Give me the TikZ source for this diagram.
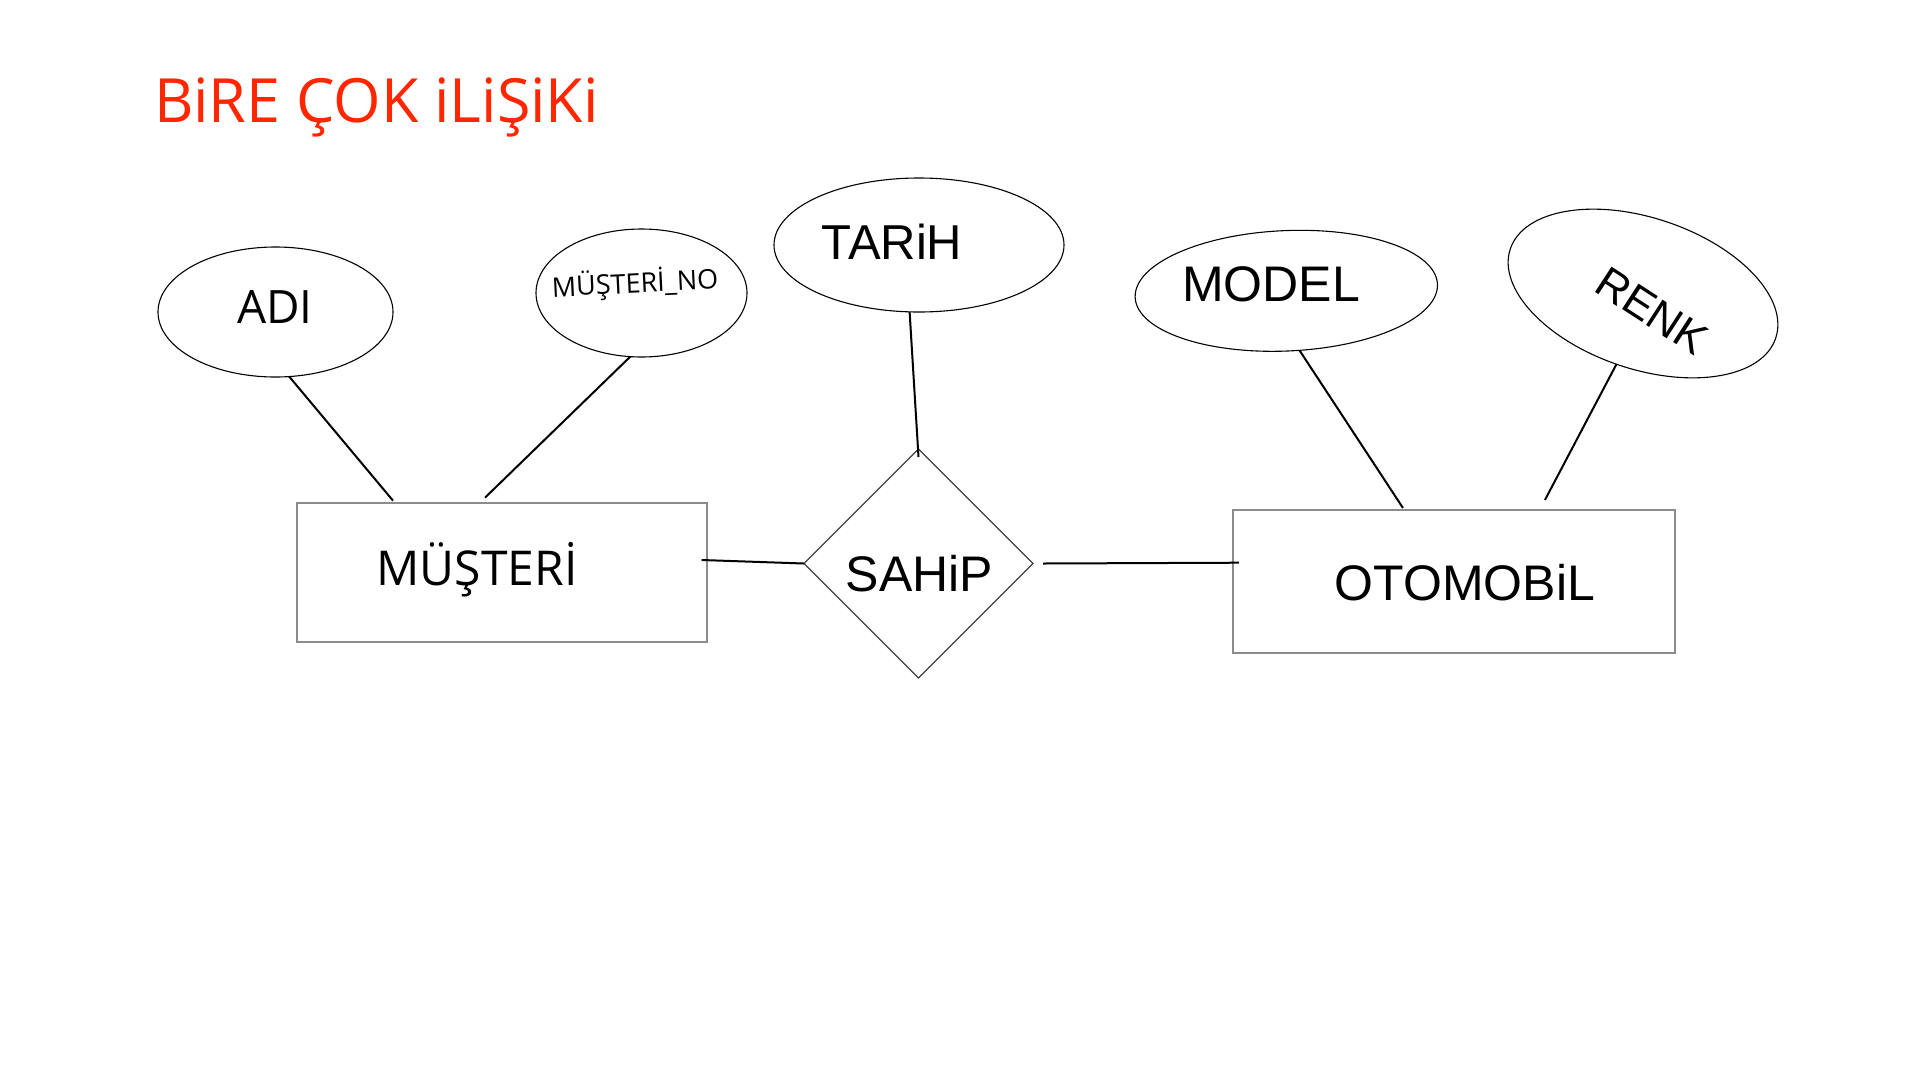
\documentclass[tikz,border=0pt]{standalone}
\usepackage{fontspec}
\usetikzlibrary{shapes.geometric}
\newfontfamily\osans{Open Sans}
\newfontfamily\lsans{Liberation Sans}
\definecolor{titlered}{RGB}{255,38,0}
\definecolor{boxgray}{RGB}{140,140,140}
\begin{document}
\begin{tikzpicture}[x=1pt,y=-1pt,
  attr/.style={ellipse, draw=black, line width=1.1pt, inner sep=0pt, outer sep=0pt},
  entity/.style={rectangle, draw=boxgray, line width=2pt, inner sep=0pt, outer sep=0pt},
  rel/.style={diamond, draw=black!75, line width=1.1pt, inner sep=0pt, outer sep=0pt, aspect=1},
  lbl/.style={inner sep=0pt, outer sep=0pt, anchor=base},
  conn/.style={draw=black, line width=2pt},
  osfont/.style={font={\osans\fontsize{#1pt}{#1pt}\selectfont}},
  lsfont/.style={font={\lsans\fontsize{#1pt}{#1pt}\selectfont}},
]
\fill[white] (0,0) rectangle (1920,1080);
\useasboundingbox (0,0) rectangle (1920,1080);

% title
\node[lbl, anchor=base west, text=titlered, osfont=61] (title) at (154,122) {BiRE ÇOK iLiŞiKi};

% attribute ellipses
\node[attr, minimum width=235pt, minimum height=130pt] (adi) at (275.5,312) {};
\node[attr, minimum width=211pt, minimum height=128pt] (muno) at (641.5,293) {};
\node[attr, minimum width=290pt, minimum height=134pt] (tarih) at (919,245) {};
\node[attr, minimum width=302.6pt, minimum height=120.4pt, rotate=2.5] (model) at (1286.3,290.8) {};
\node[attr, minimum width=280pt, minimum height=151pt, rotate=-18.6] (renk) at (1643,293.5) {};

% entities and relationship
\node[entity, minimum width=410.6pt, minimum height=139.3pt] (mus) at (502,572.3) {};
\node[entity, minimum width=442.5pt, minimum height=142.7pt] (oto) at (1454.2,581.3) {};
\node[rel, minimum width=229pt, minimum height=229pt] (sahip) at (918.5,563.5) {};

% labels
\node[lbl, osfont=46] (adiT) at (275,323) {ADI};
\node[lbl, osfont=27, rotate=2.8] (munoT) at (635.5,293) {MÜŞTERİ\_NO};
\node[lbl, lsfont=49] (tarihT) at (892,259) {TARiH};
\node[lbl, lsfont=50] (modelT) at (1271,301.7) {MODEL};
\node[inner sep=0pt, outer sep=0pt, anchor=center, lsfont=44, rotate=-33] (renkT) at (1652,310.7) {RENK};
\node[lbl, osfont=48] (musT) at (477,585) {MÜŞTERİ};
\node[lbl, lsfont=50] (sahipT) at (919.5,591.7) {SAHiP};
\node[lbl, lsfont=50] (otoT) at (1465,600) {OTOMOBiL};

% connectors
\draw[conn] (adi.-78) -- ([xshift=96.3pt,yshift=2pt]mus.north west);
\draw[conn] (muno.-100) -- ([xshift=188.3pt,yshift=5pt]mus.north west);
\draw[conn] (tarih.-98) -- ([yshift=-8pt]sahip.north);
\draw[conn] (model.-80) -- ([xshift=170pt,yshift=2pt]oto.north west);
\draw[conn] (renk.-92) -- ([xshift=312pt,yshift=10pt]oto.north west);
\draw[conn] ([xshift=-5.6pt,yshift=12.3pt]mus.east) -- (sahip.west);
\draw[conn] ([xshift=10pt]sahip.east) -- ([xshift=6pt,yshift=18.6pt]oto.west);
\end{tikzpicture}
\end{document}
